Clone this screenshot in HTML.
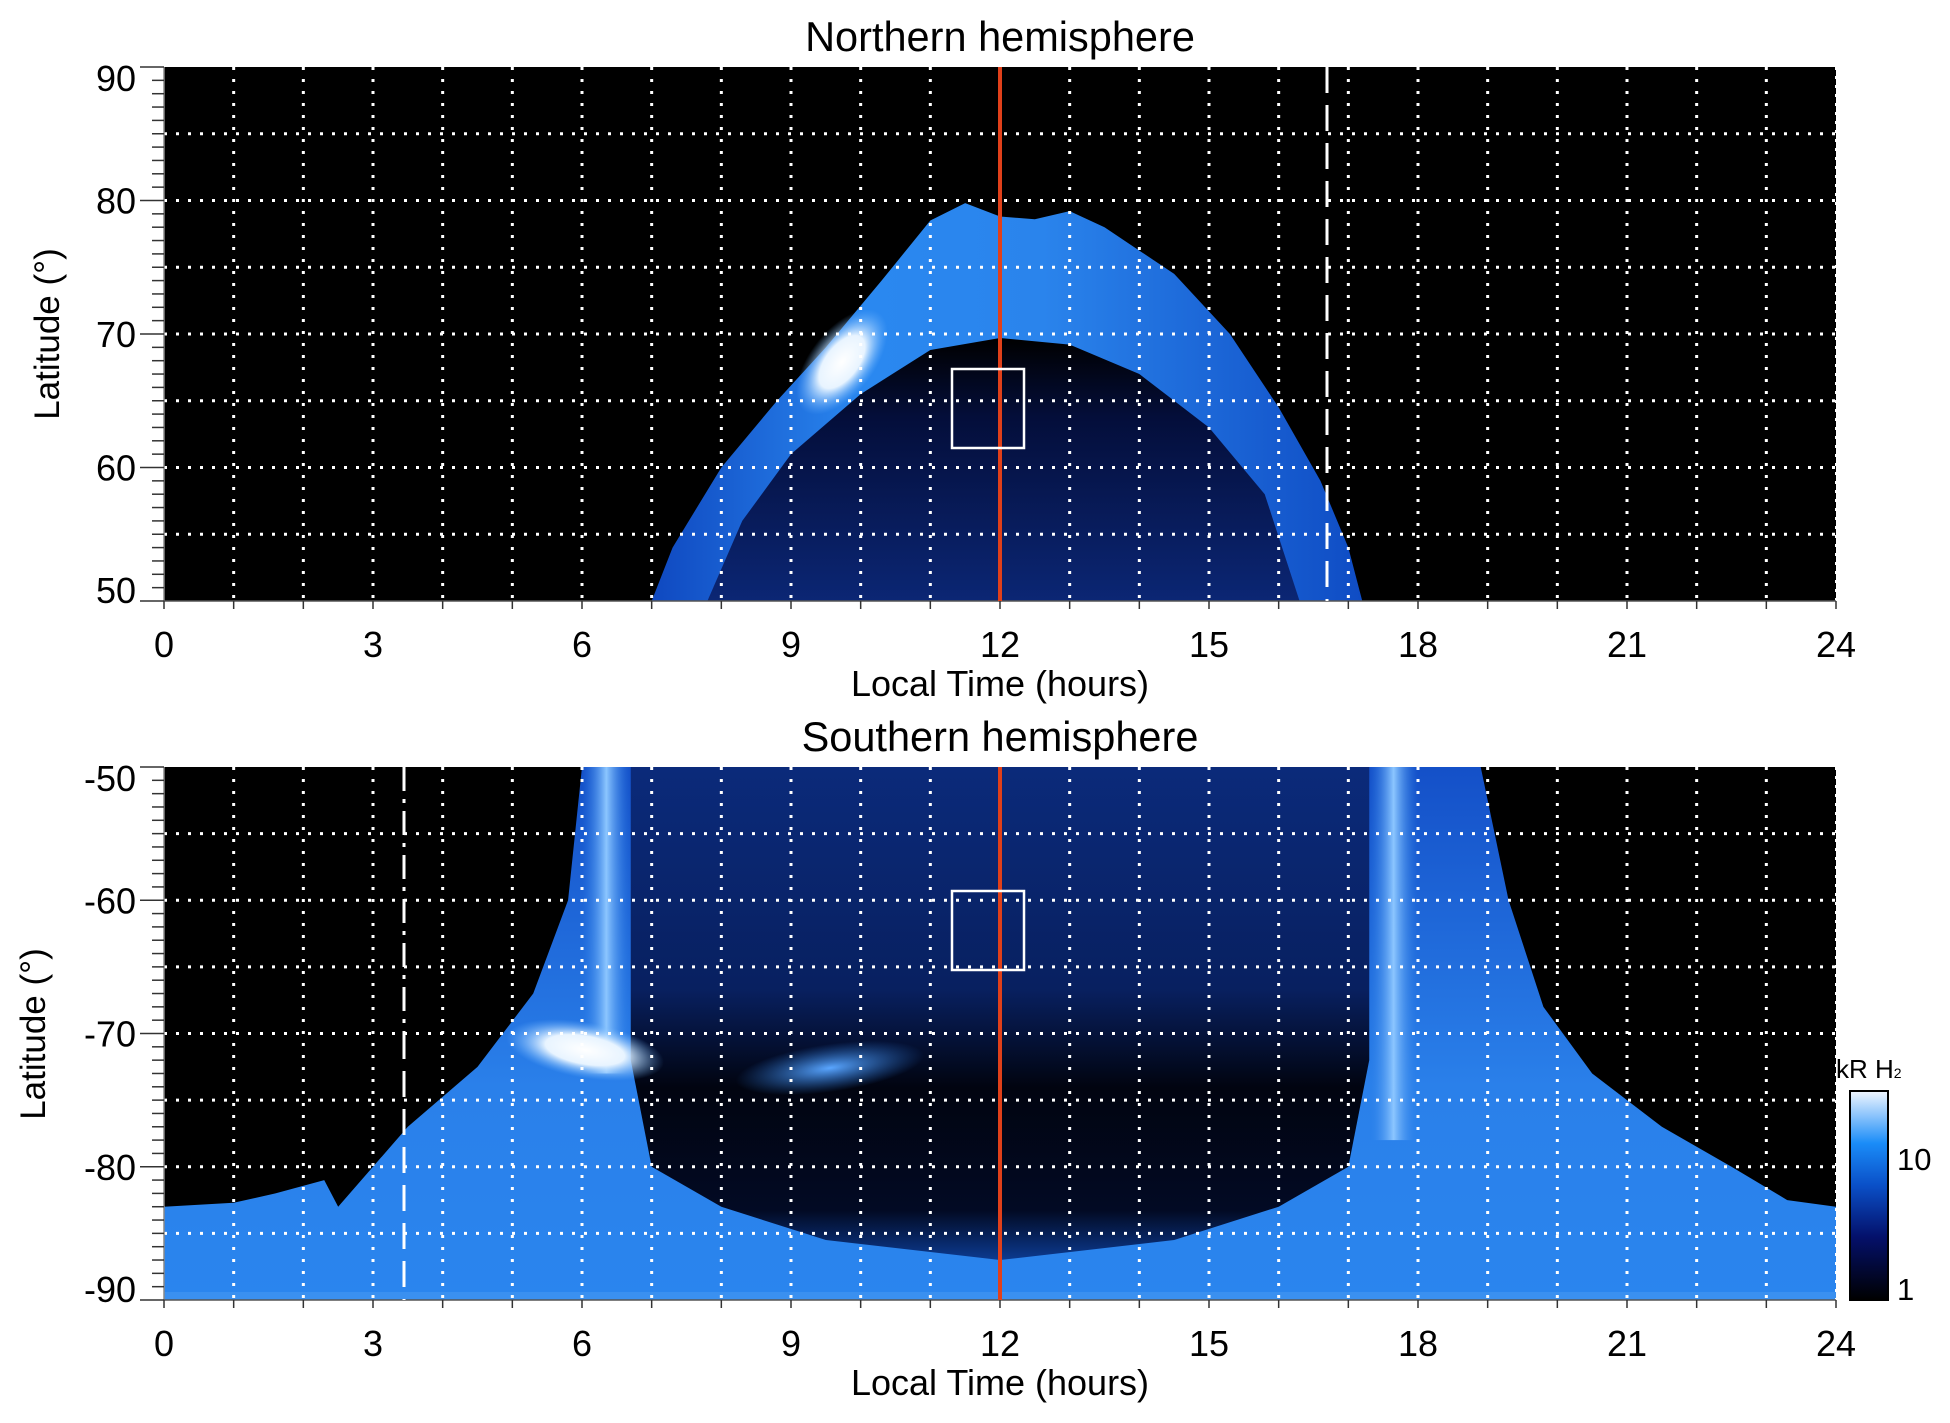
<!DOCTYPE html>
<html><head><meta charset="utf-8">
<style>html,body{margin:0;padding:0;background:#fff}svg{display:block}text{font-family:"Liberation Sans",Arial,sans-serif;fill:#000}</style>
</head><body>
<svg id="s" width="1950" height="1423" viewBox="0 0 1950 1423" xmlns="http://www.w3.org/2000/svg">
<defs>
<linearGradient id="nb" x1="0" y1="0" x2="1" y2="0">
<stop offset="0" stop-color="#0f48c0"/><stop offset="0.3" stop-color="#2a88f0"/><stop offset="0.55" stop-color="#2a84ec"/><stop offset="1" stop-color="#0f4cc4"/></linearGradient>
<linearGradient id="ni" x1="0" y1="0" x2="0" y2="1">
<stop offset="0" stop-color="#000"/><stop offset="0.3" stop-color="#040e3a"/><stop offset="1" stop-color="#0b2674"/></linearGradient>
<linearGradient id="sb" x1="0" y1="0" x2="0" y2="1">
<stop offset="0" stop-color="#1450c8"/><stop offset="0.6" stop-color="#2a80ea"/><stop offset="1" stop-color="#2a85ee"/></linearGradient>
<linearGradient id="si" x1="0" y1="0" x2="0" y2="1">
<stop offset="0" stop-color="#0b2a7a"/><stop offset="0.45" stop-color="#082060"/><stop offset="0.65" stop-color="#010410"/><stop offset="0.9" stop-color="#020a24"/><stop offset="1" stop-color="#0c3a90"/></linearGradient>
<linearGradient id="cb" x1="0" y1="1" x2="0" y2="0">
<stop offset="0" stop-color="#000"/><stop offset="0.3" stop-color="#04106a"/><stop offset="0.55" stop-color="#0a50c8"/><stop offset="0.75" stop-color="#1a8cf8"/><stop offset="1" stop-color="#f0f6ff"/></linearGradient>
<radialGradient id="wh"><stop offset="0" stop-color="#fff"/><stop offset="0.5" stop-color="#e8f4ff"/><stop offset="1" stop-color="#6ab4ff" stop-opacity="0"/></radialGradient>
<radialGradient id="lb"><stop offset="0" stop-color="#5aa6ff"/><stop offset="1" stop-color="#2a7ae0" stop-opacity="0"/></radialGradient>
<linearGradient id="st" x1="0" y1="0" x2="1" y2="0">
<stop offset="0" stop-color="#2a7ee8" stop-opacity="0"/><stop offset="0.5" stop-color="#8cc6ff"/><stop offset="1" stop-color="#2a7ee8" stop-opacity="0"/></linearGradient>
</defs>

<!-- North panel -->
<rect x="164" y="67" width="1672" height="534" fill="#000"/>
<g transform="translate(164,67) scale(69.667,13.35)">
<polygon fill="url(#nb)" points="7,40 7.3,36 8,30 8.8,25 9.5,21 10.3,16 11,11.5 11.5,10.2 12,11.2 12.5,11.4 13,10.8 13.5,12 14.5,15.5 15.3,20 16,25.5 16.6,31 17,36 17.2,40"/>
<polygon fill="url(#ni)" points="7.8,40 8.3,34 9,29 10,24.5 11,21.2 12,20.3 13,20.8 14,23 15,27 15.8,32 16.3,40"/>
</g>
<ellipse cx="0" cy="0" rx="32" ry="62" fill="url(#wh)" transform="translate(842,362) rotate(38)"/>

<!-- South panel -->
<rect x="164" y="767" width="1672" height="533" fill="#000"/>
<g transform="translate(164,767) scale(69.667,13.325)">
<polygon fill="url(#sb)" points="0,33 1,32.7 1.6,32 2.3,31 2.5,33 3.5,27 4.5,22.5 5.3,17 5.8,10 6,0 18.9,0 19.3,10 19.8,18 20.5,23 21.5,27 22.5,30 23.3,32.5 24,33 24,40 0,40"/>
<polygon fill="url(#si)" points="6.7,0 6.7,22 7,30 8,33 9.5,35.5 12,37 14.5,35.5 16,33 17,30 17.3,22 17.3,0"/>
<rect x="6" y="0" width="0.7" height="23" fill="url(#st)"/>
<rect x="17.3" y="0" width="0.7" height="28" fill="url(#st)"/>
<rect x="0" y="39.4" width="24" height="0.6" fill="#3a90f0"/>
</g>
<ellipse cx="585" cy="1050" rx="80" ry="28" fill="url(#wh)" transform="rotate(10 585 1050)"/>
<ellipse cx="830" cy="1068" rx="95" ry="24" fill="url(#lb)" transform="rotate(-8 830 1068)"/>
<g id="grid"></g>
<!-- red lines -->
<line x1="1000" y1="67" x2="1000" y2="601" stroke="#e0401a" stroke-width="4"/>
<line x1="1000" y1="767" x2="1000" y2="1300" stroke="#e0401a" stroke-width="4"/>
<!-- boxes -->
<rect x="952" y="369" width="72" height="79" fill="none" stroke="#fff" stroke-width="2.5"/>
<rect x="952" y="891" width="72" height="79" fill="none" stroke="#fff" stroke-width="2.5"/>
<!-- dashed lines -->
<line x1="1327" y1="67" x2="1327" y2="601" stroke="#fff" stroke-width="3" stroke-dasharray="26 12"/>
<line x1="404" y1="767" x2="404" y2="1033" stroke="#fff" stroke-width="3" stroke-dasharray="24 8 4 8"/>
<line x1="404" y1="1033" x2="404" y2="1300" stroke="#fff" stroke-width="3" stroke-dasharray="26 12"/>

<text x="1000" y="51" font-size="41.5" text-anchor="middle">Northern hemisphere</text>
<text x="1000" y="751" font-size="41.5" text-anchor="middle">Southern hemisphere</text>
<text x="1000" y="696" font-size="36" text-anchor="middle">Local Time (hours)</text>
<text x="1000" y="1395" font-size="36" text-anchor="middle">Local Time (hours)</text>
<text transform="translate(59,334) rotate(-90)" font-size="35" text-anchor="middle">Latitude (°)</text>
<text transform="translate(45,1034) rotate(-90)" font-size="35" text-anchor="middle">Latitude (°)</text>

<!-- colorbar -->
<rect x="1850" y="1091" width="38" height="209" fill="url(#cb)" stroke="#000" stroke-width="2"/>
<text x="1897" y="1170" font-size="31">10</text>
<text x="1897" y="1300" font-size="31">1</text>
<text x="1836" y="1078" font-size="26">kR H<tspan font-size="14">2</tspan></text>
</svg>
<script>
var g=document.getElementById('grid'),ns='http://www.w3.org/2000/svg';
function el(t,a){var e=document.createElementNS(ns,t);for(var k in a)e.setAttribute(k,a[k]);g.appendChild(e);return e;}
var L=164,R=1836,W=(R-L)/24;
var panels=[{t:67,b:601,labs:[90,80,70,60,50]},{t:767,b:1300,labs:[-50,-60,-70,-80,-90]}];
panels.forEach(function(p,pi){
  var H=(p.b-p.t)/40;
  for(var h=1;h<24;h++){var x=L+h*W;el('line',{x1:x,y1:p.t,x2:x,y2:p.b,stroke:'#fff','stroke-width':3,'stroke-dasharray':'3 9'});}
  for(var d=5;d<40;d+=5){var y=p.t+d*H;el('line',{x1:L,y1:y,x2:R,y2:y,stroke:'#fff','stroke-width':3,'stroke-dasharray':'3 9'});}
  el('line',{x1:R,y1:p.t,x2:R,y2:p.b,stroke:'#fff','stroke-width':2,'stroke-dasharray':'3 6'});
  el('line',{x1:L,y1:p.t,x2:L,y2:p.b,stroke:'#888','stroke-width':1.5});
  el('line',{x1:L,y1:p.b,x2:R,y2:p.b,stroke:'#555','stroke-width':1.5});
  for(var d=0;d<=40;d++){var y=p.t+d*H;var len=(d%10==0)?24:12;el('line',{x1:L-len,y1:y,x2:L,y2:y,stroke:'#333','stroke-width':1.5});}
  for(var h=0;h<=24;h++){var x=L+h*W;el('line',{x1:x,y1:p.b,x2:x,y2:p.b+8,stroke:'#333','stroke-width':1.5});
    if(h%3==0){var t=el('text',{x:x,y:p.b+56,'font-size':36,'text-anchor':'middle'});t.textContent=h;}}
  p.labs.forEach(function(v,i){var y=p.t+i*10*H;var off=13;if(i==0)off=24;if(i==4)off=2;
    var t=el('text',{x:L-28,y:y+off,'font-size':36,'text-anchor':'end'});t.textContent=v;});
});
</script>
</body></html>
